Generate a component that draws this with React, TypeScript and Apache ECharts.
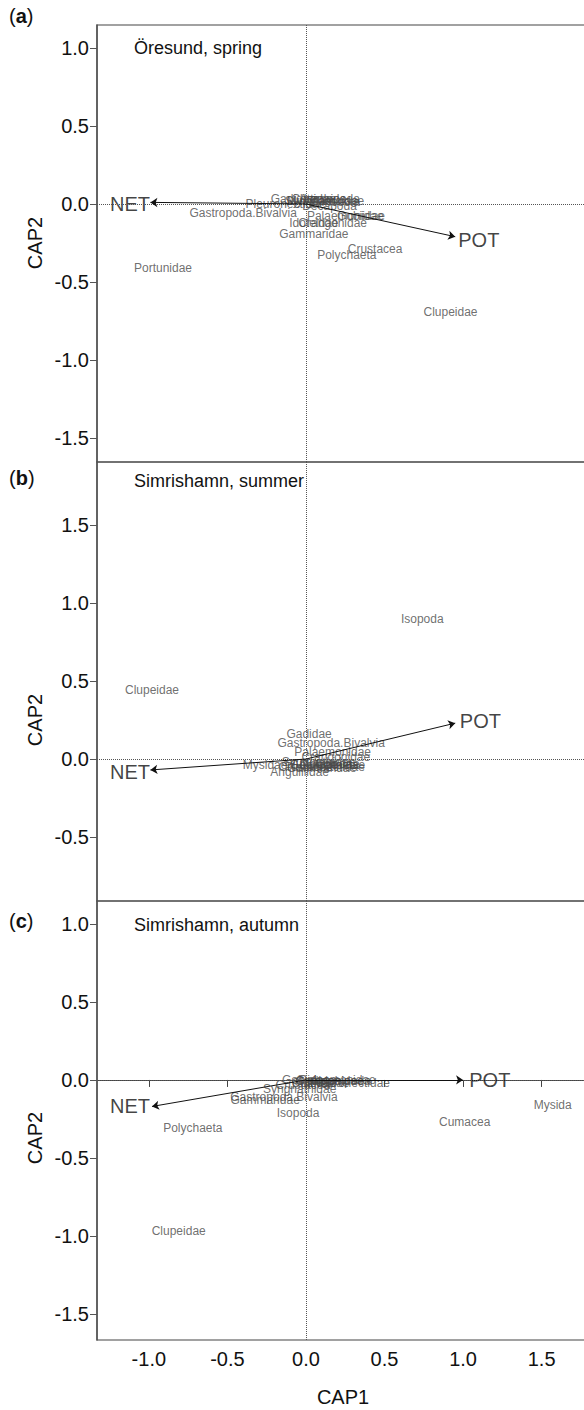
import React, { useEffect, useRef } from "react";
import * as echarts from "echarts";

// ---------- data ----------
// Panel (a) Öresund, spring
const speciesA = [
  "Portunidae", "Clupeidae", "Crustacea", "Polychaeta", "Gammaridae",
  "Gastropoda.Bivalvia", "Idoteidae", "Crangonidae", "Palaemonidae", "Gobiidae",
  "Pleuronectidae", "Decapoda", "Gadidae", "Cottidae", "Amphipoda",
  "Syngnathidae", "Zoarcidae", "Insecta", "Mysidae", "Isopoda",
];
const cap1A = [-0.91, 0.92, 0.44, 0.26, 0.05, -0.40, 0.05, 0.17, 0.25, 0.35, -0.13, 0.15, -0.08, 0.05, 0.15, 0.10, 0.20, 0.22, 0.02, 0.12];
const cap2A = [-0.41, -0.69, -0.29, -0.33, -0.19, -0.06, -0.12, -0.12, -0.08, -0.08, 0.0, -0.01, 0.03, 0.03, 0.03, 0.02, 0.02, 0.01, 0.02, 0.03];

// Panel (b) Simrishamn, summer
const speciesB = [
  "Isopoda", "Clupeidae", "Gadidae", "Gastropoda.Bivalvia", "Palaemonidae",
  "Crangonidae", "Mysidae", "Anguillidae", "Gobiidae", "Pleuronectidae",
  "Cottidae", "Gammaridae", "Polychaeta", "Syngnathidae", "Idoteidae",
  "Crustacea", "Amphipoda",
];
const cap1B = [0.74, -0.98, 0.02, 0.16, 0.17, 0.19, -0.26, -0.04, 0.05, 0.12, 0.20, 0.10, 0.15, 0.08, 0.22, 0.0, 0.10];
const cap2B = [0.90, 0.44, 0.16, 0.10, 0.045, 0.01, -0.04, -0.08, -0.04, -0.05, -0.03, -0.06, -0.04, -0.02, -0.04, -0.05, -0.03];

// Panel (c) Simrishamn, autumn
const speciesC = [
  "Mysida", "Cumacea", "Polychaeta", "Clupeidae", "Isopoda",
  "Pleuronectidae", "Gastropoda.Bivalvia", "Gammaridae", "Syngnathidae", "Gobiidae",
  "Gadidae", "Crangonidae", "Palaemonidae", "Cottidae", "Idoteidae",
  "Amphipoda", "Crustacea",
];
const cap1C = [1.57, 1.01, -0.72, -0.81, -0.05, 0.28, -0.14, -0.26, -0.04, 0.0, 0.08, 0.15, 0.20, 0.05, 0.12, 0.22, -0.02];
const cap2C = [-0.16, -0.27, -0.31, -0.97, -0.21, -0.02, -0.11, -0.13, -0.06, 0.0, -0.01, -0.01, 0.0, -0.02, -0.02, -0.01, -0.03];

// biplot vectors: [NET, POT] tips and label positions
const vectorNames = ["NET", "POT"];
const vecTipA = [[-0.99, 0.01], [0.95, -0.21]];
const vecLabA = [[-1.12, 0.0], [1.10, -0.23]];
const vecTipB = [[-0.99, -0.07], [0.95, 0.23]];
const vecLabB = [[-1.12, -0.08], [1.11, 0.245]];
const vecTipC = [[-0.98, -0.17], [1.0, 0.0]];
const vecLabC = [[-1.12, -0.17], [1.17, 0.0]];

const panelTitles = ["Öresund, spring", "Simrishamn, summer", "Simrishamn, autumn"];
const panelLetters = ["a", "b", "c"];

const xTicks = [-1.0, -0.5, 0.0, 0.5, 1.0, 1.5];
const yTicksA = [-1.5, -1.0, -0.5, 0.0, 0.5, 1.0];
const yTicksB = [-0.5, 0.0, 0.5, 1.0, 1.5];
const yTicksC = [-1.5, -1.0, -0.5, 0.0, 0.5, 1.0];

const xRange = [-1.33, 1.916];
const yRangeA = [-1.654, 1.147];
const yRangeB = [-0.91, 1.904];
const yRangeC = [-1.667, 1.147];

// ---------- layout ----------
const FONT = "'Liberation Sans', Arial, sans-serif";
const GRID_LEFT = 97;
const GRID_WIDTH = 510;
const grids = [
  { top: 25, height: 437 },
  { top: 462, height: 439 },
  { top: 901, height: 439 },
];

const fmt = (v: number) => v.toFixed(1);

export default function App() {
  const ref = useRef<HTMLDivElement>(null);

  useEffect(() => {
    if (!ref.current) return;
    const chart = echarts.init(ref.current, undefined, { renderer: "svg" });

    const species = [
      { n: speciesA, x: cap1A, y: cap2A },
      { n: speciesB, x: cap1B, y: cap2B },
      { n: speciesC, x: cap1C, y: cap2C },
    ];
    const tips = [vecTipA, vecTipB, vecTipC];
    const labs = [vecLabA, vecLabB, vecLabC];
    const yRanges = [yRangeA, yRangeB, yRangeC];
    const yTicks = [yTicksA, yTicksB, yTicksC];

    const series: any[] = [];
    species.forEach((s, i) => {
      series.push({
        type: "scatter",
        xAxisIndex: i,
        yAxisIndex: i,
        symbolSize: 1,
        itemStyle: { color: "rgba(0,0,0,0)" },
        silent: true,
        label: {
          show: true,
          position: "inside",
          formatter: "{b}",
          color: "#4a4a4a",
          fontSize: 12,
          fontFamily: FONT,
        },
        labelLayout: { hideOverlap: false },
        data: s.n.map((name, k) => ({ name, value: [s.x[k], s.y[k]] })),
        markLine: {
          silent: true,
          symbol: ["none", "none"],
          label: { show: false },
          lineStyle: { color: "#555", type: "dotted", width: 1 },
          data: [{ xAxis: 0 }, { yAxis: 0 }],
        },
        z: 2,
      });
      series.push({
        type: "scatter",
        xAxisIndex: i,
        yAxisIndex: i,
        symbolSize: 1,
        itemStyle: { color: "rgba(0,0,0,0)" },
        silent: true,
        label: {
          show: true,
          position: "inside",
          formatter: "{b}",
          color: "#111",
          fontSize: 20,
          fontFamily: FONT,
        },
        data: vectorNames.map((name, k) => ({ name, value: labs[i][k] })),
        markLine: {
          silent: true,
          symbol: ["none", "arrow"],
          symbolSize: 7,
          label: { show: false },
          lineStyle: { color: "#111", type: "solid", width: 1 },
          data: tips[i].map((t) => [{ coord: [0, 0] }, { coord: t }]),
        },
        z: 3,
      });
    });

    const graphic: any[] = [];
    const capY = [243, 720, 1138];
    grids.forEach((g, i) => {
      graphic.push({
        type: "text",
        left: 134,
        top: g.top + [14, 10, 15][i],
        style: {
          text: panelTitles[i],
          fontSize: 18,
          fontFamily: FONT,
          fill: "#111",
        },
      });
      graphic.push({
        type: "text",
        left: 9,
        top: [6, 468, 911][i],
        style: {
          text: "{p|(}{b|" + panelLetters[i] + "}{p|)}",
          rich: {
            p: { fontSize: 20, fontFamily: FONT, fill: "#111" },
            b: { fontSize: 20, fontFamily: FONT, fontWeight: "bold", fill: "#111" },
          },
        },
      });
      graphic.push({
        type: "text",
        x: 35,
        y: capY[i],
        rotation: Math.PI / 2,
        style: {
          text: "CAP2",
          fontSize: 20,
          fontFamily: FONT,
          fill: "#111",
          align: "center",
          verticalAlign: "middle",
        },
      });
    });
    graphic.push({
      type: "text",
      x: 343,
      y: 1397,
      style: {
        text: "CAP1",
        fontSize: 20,
        fontFamily: FONT,
        fill: "#111",
        align: "center",
        verticalAlign: "middle",
      },
    });

    chart.setOption({
      animation: false,
      backgroundColor: "#fff",
      grid: grids.map((g) => ({
        left: GRID_LEFT,
        top: g.top,
        width: GRID_WIDTH,
        height: g.height,
        show: true,
        borderColor: "#444",
        borderWidth: 1.2,
        containLabel: false,
        outerBoundsMode: "none",
      })),
      xAxis: grids.map((g, i) => ({
        type: "value",
        gridIndex: i,
        min: xRange[0],
        max: xRange[1],
        splitLine: { show: false },
        axisLine: { show: i === 2, lineStyle: { color: "#444", width: 1.2 } },
        axisTick: {
          show: i === 2,
          length: 7,
          customValues: xTicks,
          lineStyle: { color: "#444" },
        },
        axisLabel: {
          show: i === 2,
          customValues: xTicks,
          formatter: fmt,
          fontSize: 20,
          fontFamily: FONT,
          color: "#111",
          margin: 9,
        },
      })),
      yAxis: grids.map((g, i) => ({
        type: "value",
        gridIndex: i,
        min: yRanges[i][0],
        max: yRanges[i][1],
        splitLine: { show: false },
        axisLine: { show: true, onZero: false, lineStyle: { color: "#555", width: 1.5 } },
        axisTick: {
          show: true,
          length: 7,
          customValues: yTicks[i],
          lineStyle: { color: "#555" },
        },
        axisLabel: {
          show: true,
          customValues: yTicks[i],
          formatter: fmt,
          fontSize: 20,
          fontFamily: FONT,
          color: "#111",
          margin: 8,
        },
      })),
      graphic,
      series,
    });

    return () => chart.dispose();
  }, []);

  return (
    <div
      ref={ref}
      style={{ position: "absolute", left: 0, top: 0, width: 584, height: 1410, background: "#fff" }}
    />
  );
}
